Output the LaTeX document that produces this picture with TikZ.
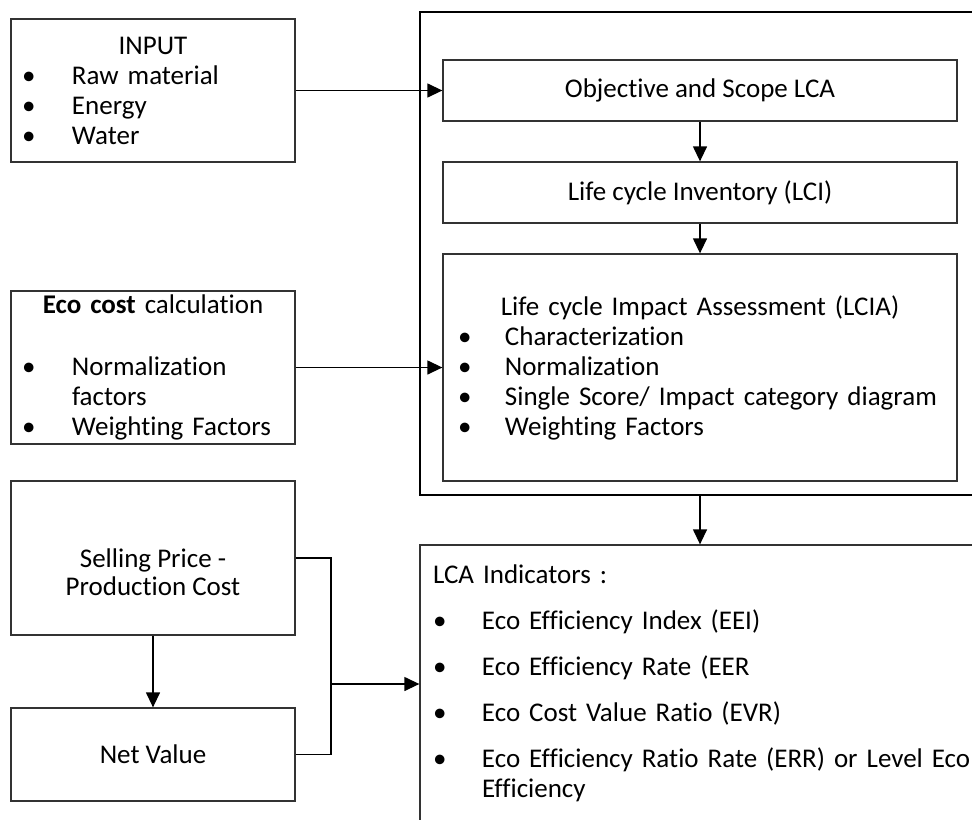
\documentclass[tikz,border=0pt]{standalone}
\usepackage{fontspec}
\setmainfont{Carlito}[Ligatures=NoCommon]
\usetikzlibrary{arrows.meta,positioning}
\tikzset{blok/.style={draw=black!80,inner sep=0pt,font=\fontsize{13.5}{15}\selectfont},
    arr/.style={-{Triangle[length=7.5pt,width=7pt]}}}
\newcommand{\bul}[1][25pt]{\makebox[#1][l]{\textbullet}}

\begin{document}
\begin{tikzpicture}[x=0.5pt,y=-0.5pt,line width=0.65pt]
                \clip (0,0) rectangle (972,819);

                % left column
                \node[blok,minimum width=142pt,minimum height=71.5pt,text width=131pt,align=left] (input) at (153,90.5)
                    {\makebox[\linewidth]{INPUT}\\ \bul Raw material\\ \bul Energy\\ \bul Water};
                \node[blok,minimum width=142pt,minimum height=76.5pt,text width=131pt,align=left] (eco) at (153,367.5)
                    {\makebox[\linewidth]{\textbf{Eco cost} calculation}\\[16pt] \bul Normalization\\ \hspace*{25pt}factors\\ \bul Weighting Factors};
                \node[blok,minimum width=142pt,minimum height=77pt,align=center,font=\fontsize{13.5}{14}\selectfont] (sell) at (153,558)
                    {\mbox{}\\[10pt]Selling Price -\\Production Cost};
                \node[blok,minimum width=142pt,minimum height=46.5pt] (net) at (153,754.5) {Net Value};

                % LCA frame
                \node[draw=black,minimum width=285pt,minimum height=241.5pt] (frame) at (705,253.5) {};
                \node[blok,minimum width=257pt,minimum height=30.5pt] (obj) at (700,90.5) {Objective and Scope LCA};
                \node[blok,minimum width=257pt,minimum height=30.5pt] (lci) at (700,192.5) {Life cycle Inventory (LCI)};
                \node[blok,minimum width=257pt,minimum height=113.5pt,text width=242pt,align=left] (lcia) at (700,367.5)
                    {\makebox[\linewidth]{Life cycle Impact Assessment (LCIA)}\\ \bul[23.5pt]Characterization\\
                     \bul[23.5pt]Normalization\\ \bul[23.5pt]Single Score/ Impact category diagram\\ \bul[23.5pt]Weighting Factors};

                \node[blok,minimum width=285pt,minimum height=138.5pt,text width=272pt,align=left] (ind) at (705,683.5)
                    {LCA Indicators :\\[8pt] \bul[24.5pt]Eco Efficiency Index (EEI)\\[8pt] \bul[24.5pt]Eco Efficiency Rate (EER\\[8pt]
                     \bul[24.5pt]Eco Cost Value Ratio (EVR)\\[8pt] \bul[24.5pt]Eco Efficiency Ratio Rate (ERR) or Level Eco\\
                     \hspace*{24.5pt}Efficiency};

                % connectors
                \draw[arr] (input) -- (obj);
                \draw[arr] (obj) -- (lci);
                \draw[arr] (lci) -- (lcia);
                \draw[arr] (eco) -- (lcia);
                \draw[arr] (frame.south -| lcia.center) -- (ind.north -| lcia.center);
                \draw[arr] (sell) -- (net);
                \coordinate (jn) at (331,684);
                \draw (sell.east) -| (jn) |- (net.east);
                \draw[arr] (jn) -- (jn -| ind.west);
            \end{tikzpicture}
\end{document}
